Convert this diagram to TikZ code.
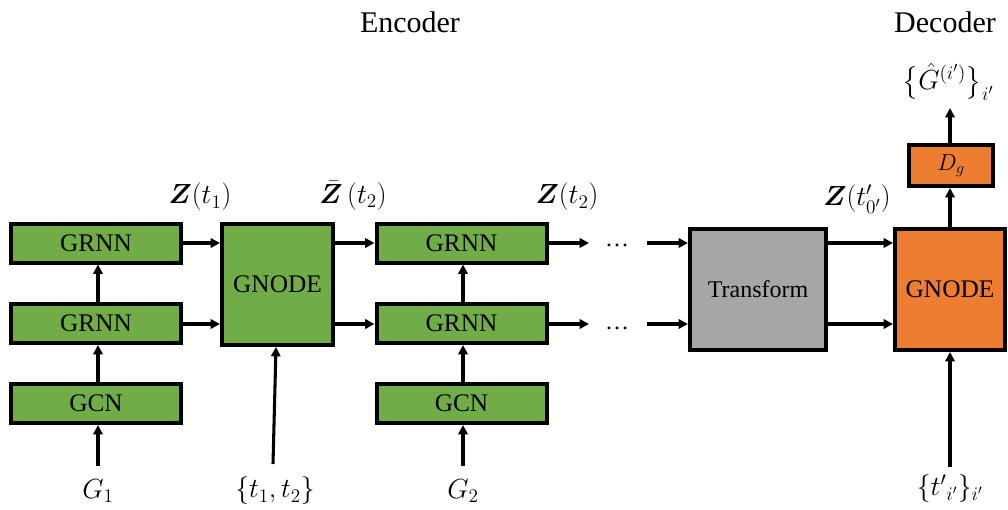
\documentclass[tikz,border=0pt]{standalone}
\usepackage{amsmath,bm}
\usepackage{fontspec}
\setmainfont{Liberation Serif}
\newfontfamily\tnr{Liberation Serif}
\usetikzlibrary{arrows.meta}
\definecolor{gbox}{HTML}{70AD47}
\definecolor{obox}{HTML}{ED7D31}
\definecolor{tbox}{HTML}{A6A6A6}
\begin{document}
\begin{tikzpicture}[x=0.75pt,y=-0.75pt,
  blk/.style={draw=black,line width=3pt,inner sep=0pt,font=\tnr\fontsize{19}{22}\selectfont},
  greenblk/.style={blk,fill=gbox,minimum width=170*0.75pt,minimum height=39*0.75pt},
  arr/.style={line width=2.3pt,-{Triangle[length=7pt,width=7pt]}},
  mlab/.style={inner sep=0pt,font=\fontsize{20}{23}\selectfont},
  tlab/.style={inner sep=0pt,font=\fontsize{21}{24}\selectfont},
  ttl/.style={inner sep=0pt,font=\tnr\fontsize{22.5}{26}\selectfont}]
\useasboundingbox (0,0) rectangle (1008,510);

\node[ttl] (enc) at (410,22) {Encoder};
\node[ttl] (dec) at (945,22) {Decoder};

% left column
\node[greenblk] (r1) at (96,243) {GRNN};
\node[greenblk] (r2) at (96,323.5) {GRNN};
\node[greenblk] (c1) at (96,403.5) {GCN};
% GNODE 1
\node[blk,fill=gbox,minimum width=111*0.75pt,minimum height=121*0.75pt] (n1) at (277.5,284.5) {GNODE};
% middle column
\node[greenblk] (r3) at (461.5,243) {GRNN};
\node[greenblk] (r4) at (461.5,323.5) {GRNN};
\node[greenblk] (c2) at (461.5,403.5) {GCN};
% transform
\node[blk,fill=tbox,minimum width=136*0.75pt,minimum height=121*0.75pt,font=\tnr\fontsize{18}{21}\selectfont] (tr) at (758,289.5) {Transform};
% decoder
\node[blk,fill=obox,minimum width=110*0.75pt,minimum height=121*0.75pt] (n2) at (950,289.5) {GNODE};
\node[blk,fill=obox,minimum width=84*0.75pt,minimum height=41*0.75pt,font=\fontsize{18}{21}\selectfont] (dg) at (951,165.5) {$D_g$};

% labels
\node[tlab] (lz1) at (200,197) {$\boldsymbol{Z}(t_1)$};
\node[tlab] (lzb) at (353,196) {$\bar{\boldsymbol{Z}}\,(t_2)$};
\node[tlab] (lz2) at (567,197) {$\boldsymbol{Z}(t_2)$};
\node[tlab] (lz0) at (857,199) {$\boldsymbol{Z}(t'_{0'})$};
\node[tlab] (lgh) at (948,82) {$\big\{\hat{G}^{(i')}\big\}_{i'}$};
\node[mlab] (g1) at (98,491) {$G_1$};
\node[mlab] (tt) at (275,491) {$\{t_1,t_2\}$};
\node[mlab] (g2) at (463,491) {$G_2$};
\node[mlab] (tp) at (950,489) {$\{{t'}_{i'}\}_{i'}$};

% dots
\node[inner sep=0pt,font=\tnr\fontsize{18}{21}\selectfont] (d1) at (617,245) {\dots};
\node[inner sep=0pt,font=\tnr\fontsize{18}{21}\selectfont] (d2) at (617,328) {\dots};
\coordinate (d1l) at (589,243);
\coordinate (d1r) at (647,243);
\coordinate (d2l) at (589,324);
\coordinate (d2r) at (647,324);

% coordinates for input line bottoms
\coordinate (g1t) at (98,466);
\coordinate (ttt) at (273,464);
\coordinate (g2t) at (463,466);
\coordinate (tpt) at (950,467);
\coordinate (ght) at (951,108);

% arrows left
\draw[arr] (g1t) -- (c1.south -| g1t);
\draw[arr] (c1.north -| g1t) -- (r2.south -| g1t);
\draw[arr] (r2.north -| g1t) -- (r1.south -| g1t);
\draw[arr] (r1.east) -- (n1.west |- r1.east);
\draw[arr] (r2.east |- d2l) -- (n1.west |- d2l);
\draw[arr] (ttt) -- ([xshift=-1.5*0.75pt]n1.south);
\draw[arr] (n1.east |- r3.west) -- (r3.west);
\draw[arr] (n1.east |- d2l) -- (r4.west |- d2l);
% middle
\draw[arr] (g2t) -- (c2.south -| g2t);
\draw[arr] (c2.north -| g2t) -- (r4.south -| g2t);
\draw[arr] (r4.north -| g2t) -- (r3.south -| g2t);
\draw[arr] (r3.east) -- (d1l);
\draw[arr] (r4.east |- d2l) -- (d2l);
\draw[arr] (d1r) -- (tr.west |- d1r);
\draw[arr] (d2r) -- (tr.west |- d2r);
% transform to decoder
\draw[arr] (tr.east |- d1r) -- (n2.west |- d1r);
\draw[arr] (tr.east |- d2r) -- (n2.west |- d2r);
\draw[arr] (tpt) -- (n2.south -| tpt);
\draw[arr] (n2.north -| tpt) -- (dg.south -| tpt);
\draw[arr] (dg.north -| tpt) -- (ght -| tpt);
\end{tikzpicture}
\end{document}
